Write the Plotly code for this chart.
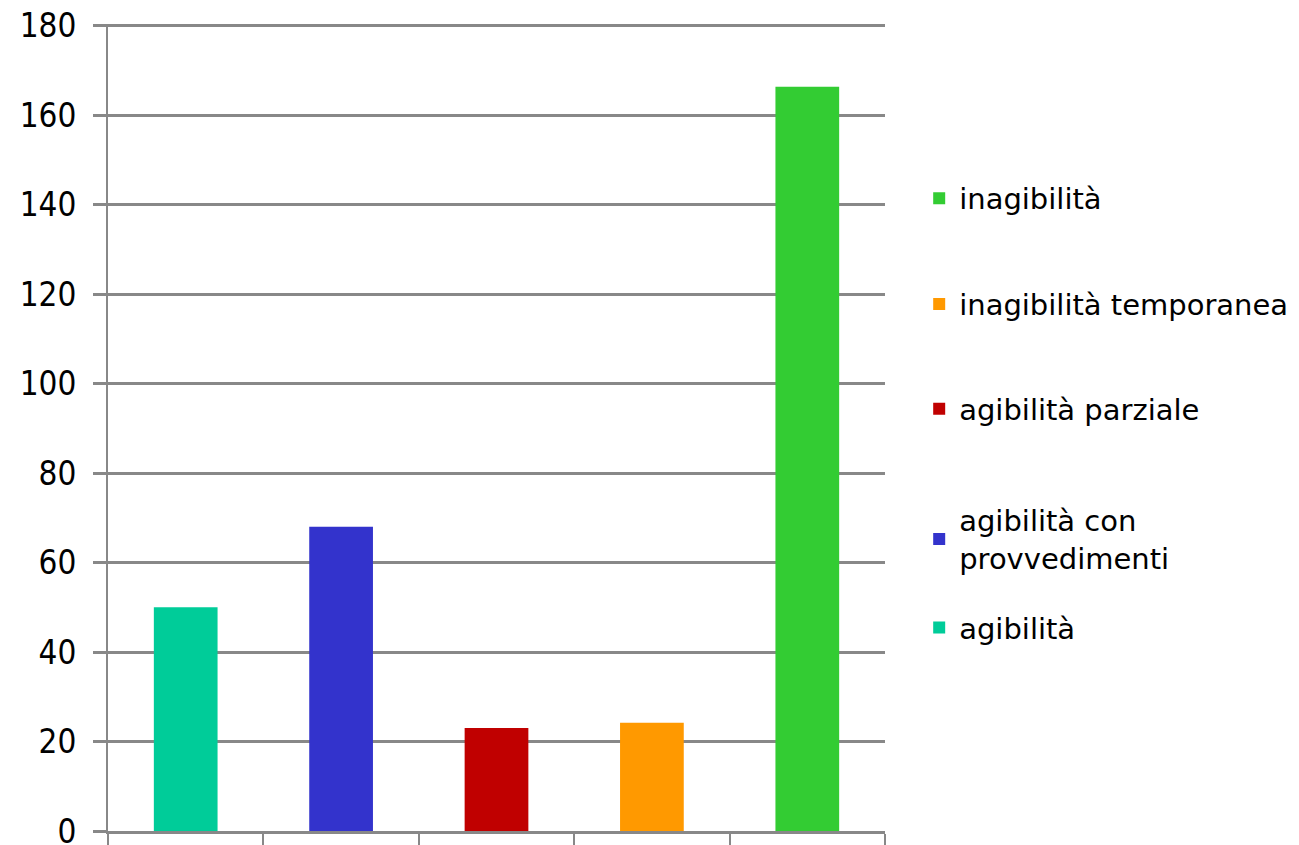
import plotly.graph_objects as go

categories = ["agibilità", "agibilità con provvedimenti", "agibilità parziale",
              "inagibilità temporanea", "inagibilità"]
legend_labels = ["agibilità", "agibilità con<br>provvedimenti", "agibilità parziale",
                 "inagibilità temporanea", "inagibilità"]
values = [50, 68, 23, 24.2, 166.4]
colors = ["#00CC99", "#3333CC", "#C00000", "#FF9900", "#33CC33"]
y_ticks = [0, 20, 40, 60, 80, 100, 120, 140, 160, 180]

legend_ids = ["legend5", "legend4", "legend3", "legend2", "legend"]
legend_y = [0.252, 0.3615, 0.523, 0.653, 0.784]

fig = go.Figure()
for cat, lab, val, col, lid in zip(categories, legend_labels, values, colors, legend_ids):
    fig.add_trace(go.Bar(x=[cat], y=[val], name=lab, marker_color=col,
                         marker_line_width=0, legend=lid))

legend_font = dict(family="DejaVu Sans, sans-serif", size=29, color="#000000")
layout_legends = {}
for lid, ly in zip(legend_ids, legend_y):
    layout_legends[lid] = dict(x=1.044, y=ly, xanchor="left", yanchor="middle",
                               font=legend_font, bgcolor="rgba(0,0,0,0)",
                               itemclick=False, itemdoubleclick=False)

fig.update_layout(
    width=1299, height=845,
    margin=dict(l=100, r=422, t=16, b=22),
    paper_bgcolor="white", plot_bgcolor="white",
    barmode="overlay", bargap=0.59,
    showlegend=True,
    **layout_legends,
)
fig.update_xaxes(
    type="category", categoryorder="array", categoryarray=categories,
    showticklabels=False, tickson="boundaries", ticks="outside", ticklen=12,
    tickcolor="#888888", tickwidth=2, showline=True, linecolor="#888888",
    linewidth=3, showgrid=False, automargin=False,
)
fig.update_yaxes(
    range=[0, 180.4], tickvals=y_ticks, ticks="outside", ticklen=13,
    tickcolor="#888888", tickwidth=3, showgrid=True, gridcolor="#888888",
    gridwidth=3, showline=True, linecolor="#888888", linewidth=2,
    zeroline=False, automargin=False, ticklabeloverflow="allow",
    ticklabelstandoff=10,
    tickfont=dict(family="DejaVu Sans Condensed, DejaVu Sans, sans-serif",
                  size=33, color="#000000"),
)

fig.write_html("out.html")
